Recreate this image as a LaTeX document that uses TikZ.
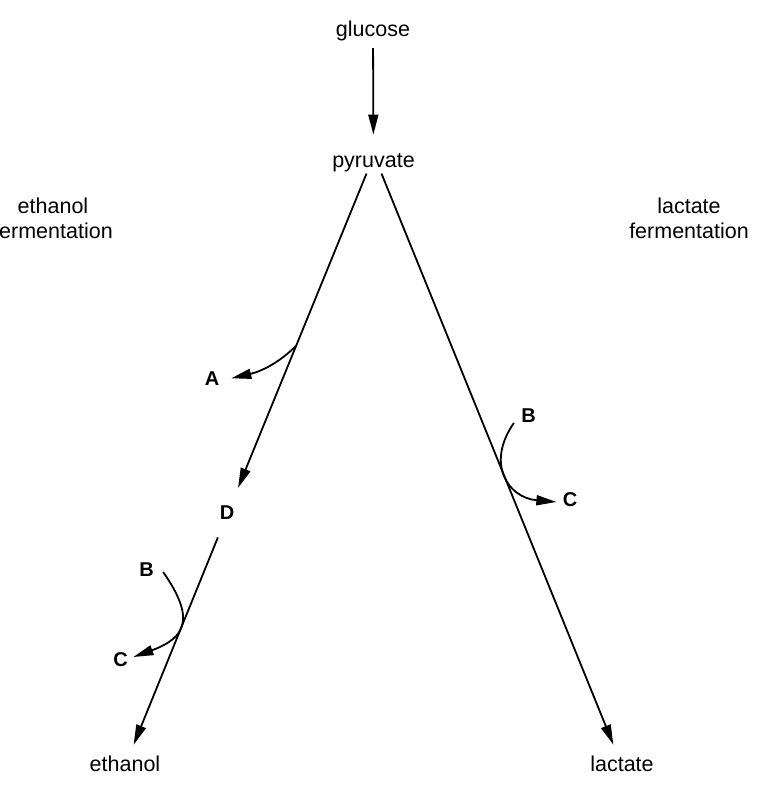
\documentclass[tikz,border=0pt]{standalone}
\usepackage{fontspec}
\setmainfont{Liberation Sans}
\usetikzlibrary{positioning, arrows.meta}

\begin{document}
\begin{tikzpicture}[
    x=0.5pt, y=0.5pt,
    arrow/.style={-{Triangle[length=10pt, width=5pt]}, line width=0.9pt},
    compound/.style={inner sep=0pt, text height=8pt, text depth=2.7pt, font=\fontsize{10.75}{12.5}\selectfont},
    enzyme/.style={inner sep=0pt, text height=7.5pt, text depth=2.5pt, font=\fontsize{10}{12}\selectfont\bfseries},
    pathway/.style={inner sep=0pt, align=center, font=\fontsize{10.75}{12.5}\selectfont}
]

    % Page
    \useasboundingbox (0, 0) rectangle (763, 792);

    % Compounds
    \node[compound] (glucose) at (373, 761) {glucose};
    \node[compound] (pyruvate) at (373.5, 629.5) {pyruvate};
    \node[compound] (ethanol) at (125, 26) {ethanol};
    \node[compound] (lactate) at (622, 26) {lactate};

    % Side products
    \node[enzyme] (D) at (227, 277) {D};
    \node[enzyme] (A) at (212, 411) {A};
    \node[enzyme] (B1) at (146.5, 220) {B};
    \node[enzyme] (C1) at (120.5, 130) {C};
    \node[enzyme] (B2) at (528.5, 374) {B};
    \node[enzyme] (C2) at (570, 290) {C};

    % Pathway names
    \node[pathway] (ethferm) at (53, 574) {ethanol\\fermentation};
    \node[pathway] (lacferm) at (689, 574) {lactate\\fermentation};

    % Main arrows
    \draw[arrow, shorten <=3pt, shorten >=8.4pt] (glucose) -- (pyruvate);
    \draw[arrow, shorten >=9pt] ([xshift=-3.5pt]pyruvate.south) -- coordinate[pos=0.52] (splitA) (D);
    \draw[arrow, shorten <=6.5pt, shorten >=5.5pt] (D) -- (ethanol);
    \draw[arrow, shorten >=5.5pt] ([xshift=4pt]pyruvate.south) -- (lactate);

    % Side arrows
    \draw[arrow, shorten >=6pt] (splitA) to[out=225, in=13] (A.east);
    \draw[arrow] ([xshift=4.5pt]B1.east) to[out=-55, in=20, looseness=1.6] ([shift={(2.65pt,2.5pt)}]C1.east);
    \draw[arrow] ([shift={(-3.5pt,-2.5pt)}]B2.west) to[out=235, in=175, looseness=1.4] ([xshift=-3pt]C2.west);

\end{tikzpicture}
\end{document}
